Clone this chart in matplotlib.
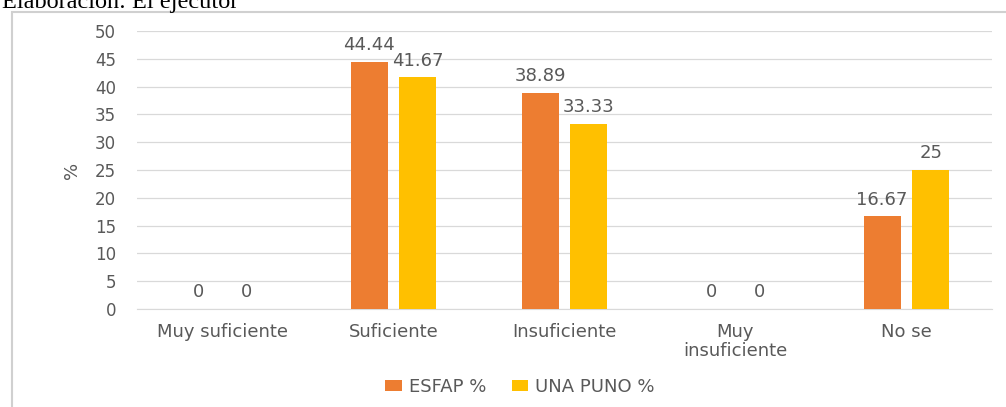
import numpy as np
import matplotlib.pyplot as plt
from matplotlib.patches import Rectangle

categorias = ['Muy suficiente', 'Suficiente', 'Insuficiente', 'Muy\ninsuficiente', 'No se']
esfap = [0, 44.44, 38.89, 0, 16.67]
una_puno = [0, 41.67, 33.33, 0, 25]
etiquetas_esfap = ['0', '44.44', '38.89', '0', '16.67']
etiquetas_una = ['0', '41.67', '33.33', '0', '25']
series = ['ESFAP %', 'UNA PUNO %']

fig = plt.figure(figsize=(10.06, 4.07), dpi=100)

# marco del grafico
fig.patches.append(Rectangle((12 / 1006, -0.1), 1.1, 1 - 12 / 407 + 0.1,
                             transform=fig.transFigure, fill=False,
                             edgecolor='#d0d0d0', linewidth=1.5))
fig.text(2 / 1006, 1.0 - 8 / 407, 'Elaboración: El ejecutor', fontsize=17.5,
         family='Liberation Serif', va='baseline', ha='left', color='black')

ax = fig.add_axes([137 / 1006, 1 - 309 / 407, 855 / 1006, 278 / 407])
x = np.arange(len(categorias))
w = 0.216
off = 0.143
gris = '#595959'

ax.bar(x - off, esfap, w, color='#ed7d31', label=series[0], zorder=3)
ax.bar(x + off, una_puno, w, color='#ffc000', label=series[1], zorder=3)

for xi, v, t in zip(x - off, esfap, etiquetas_esfap):
    ax.text(xi, v + 1.4, t, ha='center', va='bottom', fontsize=13, color=gris)
for xi, v, t in zip(x + off, una_puno, etiquetas_una):
    ax.text(xi, v + 1.4, t, ha='center', va='bottom', fontsize=13, color=gris)

ax.set_xlim(-0.5, len(categorias) - 0.5)
ax.set_ylim(0, 50)
ax.set_yticks(np.arange(0, 51, 5))
ax.set_xticks(x)
ax.set_xticklabels(categorias, fontsize=13, color=gris, linespacing=1.1)
ax.tick_params(axis='y', labelsize=12, labelcolor=gris, length=0, pad=15)
ax.tick_params(axis='x', length=0, pad=10)
ax.grid(axis='y', color='#d9d9d9', linewidth=0.9, zorder=0)
for s in ['top', 'right', 'left']:
    ax.spines[s].set_visible(False)
ax.spines['bottom'].set_color('#d9d9d9')
ax.set_ylabel('%', fontsize=13, color=gris, labelpad=10)

leg = fig.legend(loc='center', bbox_to_anchor=(520 / 1006, 1 - 387 / 407), ncol=2,
                 frameon=False, fontsize=13, handlelength=0.9, handleheight=0.55,
                 columnspacing=1.4, handletextpad=0.4)
for t in leg.get_texts():
    t.set_color(gris)

fig.savefig('out.png', dpi=100)
